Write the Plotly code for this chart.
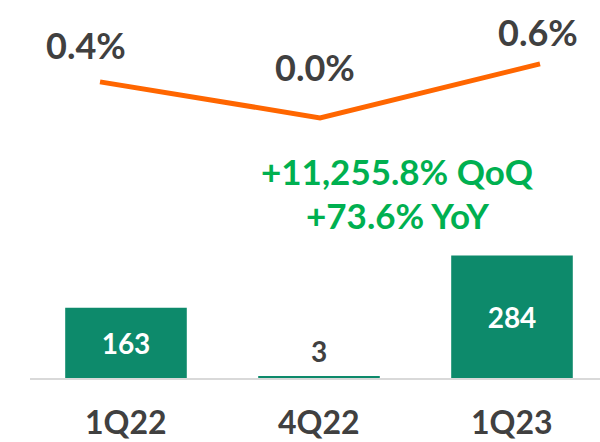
import plotly.graph_objects as go

categories = ["1Q22", "4Q22", "1Q23"]
bar_values = [163, 3, 284]
bar_labels = ["163", "3", "284"]
line_values = [0.4, 0.0, 0.6]
line_labels = ["0.4%", "0.0%", "0.6%"]
growth_lines = ["+11,255.8% QoQ", "+73.6% YoY"]

FONT = "Lato"
DARK = "#404040"
BAR_COLOR = "#0D8A6B"
ORANGE = "#FF6600"
GREEN = "#00B050"

fig = go.Figure()

fig.add_trace(go.Bar(
    x=categories, y=bar_values,
    width=0.63,
    marker=dict(color=BAR_COLOR, line=dict(width=0)),
    text=[bar_labels[0], "", bar_labels[2]],
    textposition="inside",
    insidetextanchor="middle",
    textfont=dict(family=FONT, size=28, weight=700, color="white"),
    cliponaxis=False,
    hoverinfo="skip",
    xaxis="x", yaxis="y",
))

fig.add_trace(go.Scatter(
    x=[0, 1, 2], y=line_values,
    mode="lines",
    line=dict(color=ORANGE, width=5),
    hoverinfo="skip",
    xaxis="x2", yaxis="y2",
))

annotations = []
annotations.append(dict(
    x=categories[1], y=bar_values[1], xref="x", yref="y", text=bar_labels[1],
    showarrow=False, yanchor="middle", yshift=26,
    font=dict(family=FONT, size=28, weight=700, color=DARK),
))

shifts = [(-14, 37), (-5, 51), (-2, 32)]
for i, (v, lab) in enumerate(zip(line_values, line_labels)):
    annotations.append(dict(
        x=i, y=v, xref="x2", yref="y2", text=lab, showarrow=False,
        xshift=shifts[i][0], yshift=shifts[i][1],
        font=dict(family=FONT, size=36, weight=700, color=DARK),
    ))

for c in categories:
    annotations.append(dict(
        x=c, y=0, xref="x", yref="paper", text=c, showarrow=False,
        yshift=-43, yanchor="middle", borderpad=0,
        font=dict(family=FONT, size=32, weight=700, color=DARK),
    ))

for j, (t, yp) in enumerate(zip(growth_lines, [0.548, 0.432])):
    annotations.append(dict(
        x=0.663, y=yp, xref="paper", yref="paper", text=t, showarrow=False,
        xanchor="center", yanchor="middle",
        font=dict(family=FONT, size=35, weight=700, color=GREEN),
    ))

fig.update_layout(
    width=600, height=442,
    margin=dict(l=0, r=0, t=0, b=63.5),
    paper_bgcolor="white", plot_bgcolor="white",
    showlegend=False,
    hovermode=False,
    xaxis=dict(domain=[29.5 / 600, 1], range=[-0.5, 2.456], showgrid=False,
               showticklabels=False, ticks="", showline=True,
               linecolor="#D9D9D9", linewidth=2, zeroline=False),
    yaxis=dict(range=[0, 876], visible=False),
    xaxis2=dict(overlaying="x", range=[-0.3205, 2.2727], visible=False),
    yaxis2=dict(overlaying="y", range=[-2.894, 1.311], visible=False),
    annotations=annotations,
)

fig.write_html("out.html",
               config={"displayModeBar": False},
               post_script="document.body.style.margin='0';document.body.style.padding='0';")
